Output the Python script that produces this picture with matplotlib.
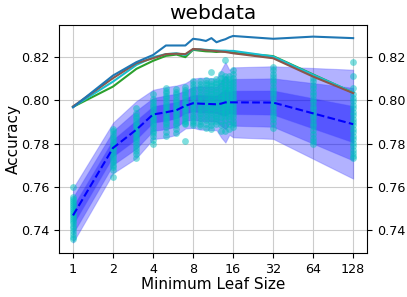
import matplotlib
matplotlib.use("Agg")
import matplotlib.pyplot as plt
import numpy as np

# ---------------- data ----------------
leaf_sizes = [1, 2, 3, 4, 5, 6, 7, 8, 9, 10, 11, 12, 13, 14, 15, 16, 32, 64, 128]
tick_values = [1, 2, 4, 8, 16, 32, 64, 128]
tick_labels = ["1", "2", "4", "8", "16", "32", "64", "128"]

line_blue = [0.7968, 0.8115, 0.8177, 0.8210, 0.8254, 0.8254, 0.8254, 0.8285, 0.8281,
             0.8275, 0.8288, 0.8269, 0.8277, 0.8283, 0.8292, 0.8298, 0.8285, 0.8295, 0.8288]
line_brown = [0.7972, 0.8103, 0.8172, 0.8195, 0.8214, 0.8216, 0.8214, 0.8238, 0.8236,
              0.8232, 0.8230, 0.8228, 0.8226, 0.8224, 0.8221, 0.8218, 0.8195, 0.8110, 0.8034]
line_green = [0.7970, 0.8064, 0.8146, 0.8183, 0.8206, 0.8212, 0.8200, 0.8234, 0.8230,
              0.8227, 0.8226, 0.8224, 0.8226, 0.8226, 0.8224, 0.8220, 0.8205, 0.8120, 0.8036]
line_cyan = [0.7970, 0.8087, 0.8164, 0.8200, 0.8214, 0.8218, 0.8210, 0.8236, 0.8236,
             0.8234, 0.8232, 0.8231, 0.8230, 0.8230, 0.8229, 0.8229, 0.8203, 0.8118, 0.8037]

mean_acc = [0.7468, 0.7780, 0.7865, 0.7935, 0.7945, 0.7955, 0.7975, 0.7987, 0.7985,
            0.7984, 0.7983, 0.7982, 0.7985, 0.7991, 0.7991, 0.7991, 0.7990, 0.7940, 0.7890]
std_acc = [0.0042, 0.0039, 0.0044, 0.0038, 0.0039, 0.0038, 0.0035, 0.0038, 0.0040,
           0.0040, 0.0040, 0.0040, 0.0052, 0.0062, 0.0050, 0.0054, 0.0056, 0.0070, 0.0084]

points = {
    1: [0.7600, 0.7555, 0.7546, 0.7537, 0.7527, 0.7518, 0.7508, 0.7499, 0.7490, 0.7480,
        0.7471, 0.7461, 0.7452, 0.7442, 0.7431, 0.7420, 0.7408, 0.7396, 0.7384, 0.7370, 0.7358],
    2: [0.7870, 0.7858, 0.7846, 0.7833, 0.7821, 0.7809, 0.7797, 0.7785, 0.7773, 0.7761,
        0.7749, 0.7737, 0.7725, 0.7713, 0.7701, 0.7690, 0.7680, 0.7646],
    3: [0.7966, 0.7943, 0.7930, 0.7918, 0.7905, 0.7893, 0.7881, 0.7868, 0.7856, 0.7844,
        0.7832, 0.7820, 0.7807, 0.7795, 0.7782, 0.7766, 0.7750, 0.7735],
    4: [0.8028, 0.8005, 0.7992, 0.7980, 0.7968, 0.7956, 0.7944, 0.7932, 0.7920, 0.7908,
        0.7896, 0.7884, 0.7872, 0.7860, 0.7848, 0.7834, 0.7818, 0.7797],
    5: [0.8059, 0.8045, 0.8033, 0.8021, 0.8009, 0.7997, 0.7985, 0.7973, 0.7961, 0.7949,
        0.7937, 0.7925, 0.7913, 0.7901, 0.7889, 0.7875, 0.7855, 0.7835],
    6: [0.8052, 0.8040, 0.8028, 0.8016, 0.8004, 0.7992, 0.7980, 0.7968, 0.7956, 0.7944,
        0.7932, 0.7920, 0.7908, 0.7896, 0.7884, 0.7870, 0.7850],
    7: [0.8063, 0.8050, 0.8038, 0.8026, 0.8014, 0.8002, 0.7990, 0.7978, 0.7966, 0.7954,
        0.7942, 0.7930, 0.7918, 0.7906, 0.7896, 0.7889, 0.7812],
    8: [0.8089, 0.8075, 0.8062, 0.8050, 0.8038, 0.8026, 0.8014, 0.8002, 0.7990, 0.7978,
        0.7966, 0.7954, 0.7942, 0.7930, 0.7918, 0.7905, 0.7895, 0.7885],
    9: [0.8090, 0.8076, 0.8063, 0.8051, 0.8039, 0.8027, 0.8015, 0.8003, 0.7991, 0.7979,
        0.7967, 0.7955, 0.7943, 0.7931, 0.7919, 0.7905, 0.7893, 0.7880],
    10: [0.8096, 0.8082, 0.8069, 0.8057, 0.8045, 0.8033, 0.8021, 0.8009, 0.7997, 0.7985,
         0.7973, 0.7961, 0.7949, 0.7937, 0.7925, 0.7911, 0.7893, 0.7874],
    11: [0.8132, 0.8090, 0.8077, 0.8065, 0.8053, 0.8041, 0.8029, 0.8017, 0.8005, 0.7993,
         0.7981, 0.7969, 0.7957, 0.7945, 0.7933, 0.7919, 0.7900, 0.7884, 0.7868],
    12: [0.8100, 0.8087, 0.8074, 0.8062, 0.8050, 0.8038, 0.8026, 0.8014, 0.8002, 0.7990,
         0.7978, 0.7966, 0.7954, 0.7942, 0.7930, 0.7917, 0.7903, 0.7890],
    13: [0.8122, 0.8105, 0.8092, 0.8079, 0.8066, 0.8053, 0.8040, 0.8027, 0.8014, 0.8001,
         0.7988, 0.7975, 0.7962, 0.7949, 0.7936, 0.7922, 0.7905, 0.7885, 0.7858],
    14: [0.8187, 0.8112, 0.8098, 0.8085, 0.8072, 0.8059, 0.8046, 0.8033, 0.8020, 0.8007,
         0.7994, 0.7981, 0.7968, 0.7955, 0.7942, 0.7928, 0.7910, 0.7888, 0.7858],
    15: [0.8114, 0.8098, 0.8085, 0.8072, 0.8059, 0.8046, 0.8033, 0.8020, 0.8007, 0.7994,
         0.7981, 0.7968, 0.7955, 0.7942, 0.7929, 0.7913, 0.7892, 0.7870],
    16: [0.8140, 0.8120, 0.8105, 0.8091, 0.8077, 0.8063, 0.8049, 0.8035, 0.8021, 0.8007,
         0.7993, 0.7979, 0.7965, 0.7951, 0.7937, 0.7922, 0.7905, 0.7889, 0.7875],
    32: [0.8153, 0.8140, 0.8124, 0.8109, 0.8094, 0.8079, 0.8064, 0.8049, 0.8034, 0.8019,
         0.8004, 0.7989, 0.7974, 0.7959, 0.7944, 0.7929, 0.7913, 0.7895, 0.7874],
    64: [0.8105, 0.8088, 0.8072, 0.8056, 0.8040, 0.8024, 0.8008, 0.7992, 0.7976, 0.7960,
         0.7944, 0.7928, 0.7912, 0.7896, 0.7880, 0.7863, 0.7845, 0.7825, 0.7810, 0.7797],
    128: [0.8177, 0.8111, 0.8057, 0.8028, 0.8012, 0.7996, 0.7980, 0.7964, 0.7948, 0.7932,
          0.7916, 0.7900, 0.7884, 0.7868, 0.7852, 0.7836, 0.7820, 0.7804, 0.7788, 0.7772,
          0.7756, 0.7742, 0.7733],
}

# ---------------- plot ----------------
fig = plt.figure(figsize=(4.07, 2.97), dpi=100)
ax = fig.add_axes([0.145, 0.148, 0.757, 0.768])

x = np.array(leaf_sizes, dtype=float)
m = np.array(mean_acc)
s = np.array(std_acc)

for k in (3, 2, 1):
    ax.fill_between(x, m - k * s, m + k * s, color="blue", alpha=0.3, linewidth=0.8,
                    edgecolor=(0.3, 0.3, 1.0, 0.3), zorder=1)

for xs, vals in points.items():
    ax.scatter([xs] * len(vals), vals, s=24, color="c", alpha=0.5, linewidths=0, zorder=2)

ax.plot(x, m, "--", color="blue", lw=1.5, zorder=3)

ax.plot(x, line_green, color="tab:green", lw=1.5, zorder=4)
ax.plot(x, line_cyan, color="tab:cyan", lw=1.5, zorder=4)
ax.plot(x, line_brown, color="tab:brown", lw=1.5, zorder=5)
ax.plot(x, line_blue, color="tab:blue", lw=1.5, zorder=6)

ax.set_xscale("log", base=2)
ax.set_xlim(0.785, 163)
ax.set_ylim(0.7294, 0.8349)
ax.set_xticks(tick_values)
ax.set_xticklabels(tick_labels)
ax.minorticks_off()
ax.set_yticks([0.74, 0.76, 0.78, 0.80, 0.82])
ax.set_yticklabels(["0.74", "0.76", "0.78", "0.80", "0.82"])
ax.grid(True, color="#cccccc", lw=0.8)
ax.set_axisbelow(True)
ax.tick_params(labelsize=9.2, right=True, labelright=True)

ax.set_xlabel("Minimum Leaf Size", fontsize=11, labelpad=1)
ax.set_ylabel("Accuracy", fontsize=11, labelpad=0)
ax.set_title("webdata", fontsize=14.5, pad=4)

fig.savefig("out.png", dpi=100)
